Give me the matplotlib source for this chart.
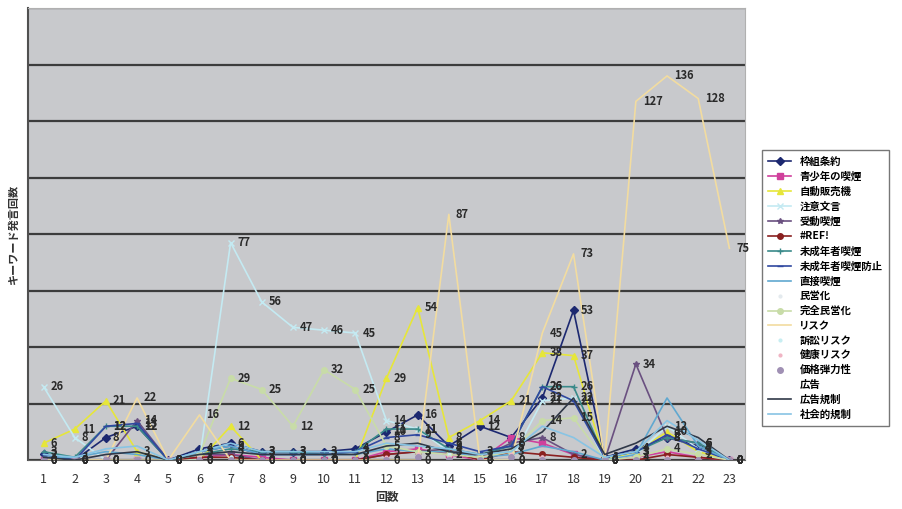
import numpy as np
from matplotlib import pyplot as plt

plt.rcParams['font.family'] = ['Noto Sans CJK JP', 'DejaVu Sans']

rounds = list(range(1, 24))

# 回ごとのキーワード発言回数 (rough)
wakugumi = [2, 0, 8, 12, 0, 4, 6, 3, 3, 3, 4, 10, 16, 5, 12, 8, 22, 53, 1, 4, 8, 5, 0]
seishonen = [0, 0, 0, 0, 0, 1, 2, 1, 0, 0, 0, 3, 4, 2, 0, 8, 6, 2, 0, 1, 3, 1, 0]
jihanki = [6, 11, 21, 3, 0, 0, 12, 0, 0, 0, 0, 29, 54, 8, 14, 21, 38, 37, 0, 3, 10, 3, 0]
chui = [26, 8, 0, 0, 0, 0, 77, 56, 47, 46, 45, 14, 11, 3, 0, 0, 21, 22, 0, 2, 12, 4, 0]
judo = [0, 0, 0, 14, 0, 2, 2, 0, 0, 0, 0, 2, 3, 4, 1, 6, 8, 2, 0, 34, 8, 6, 0]
ref_err = [0, 0, 0, 0, 0, 1, 1, 0, 0, 0, 0, 2, 3, 3, 0, 3, 2, 1, 0, 0, 2, 1, 0]
miseinen = [3, 1, 12, 12, 0, 2, 4, 3, 3, 2, 3, 11, 11, 4, 2, 5, 26, 26, 1, 3, 8, 6, 0]
miseinen_boshi = [2, 0, 12, 13, 0, 3, 5, 2, 2, 2, 3, 8, 9, 6, 3, 5, 26, 21, 1, 3, 9, 4, 0]
chokusetsu = [1, 1, 3, 2, 0, 3, 5, 2, 2, 2, 2, 4, 3, 3, 1, 2, 5, 3, 0, 2, 22, 5, 0]
mineika = [0, 0, 0, 0, 0, 0, 1, 0, 0, 0, 0, 0, 1, 0, 0, 0, 1, 0, 0, 0, 0, 0, 0]
kanzen_mineika = [0, 0, 0, 0, 0, 2, 29, 25, 12, 32, 25, 5, 3, 2, 1, 3, 14, 15, 0, 1, 4, 2, 0]
risk = [0, 0, 0, 22, 0, 16, 0, 0, 0, 0, 0, 0, 0, 87, 0, 0, 45, 73, 0, 127, 136, 128, 75]
sosho_risk = [0, 0, 0, 0, 0, 0, 1, 0, 0, 0, 0, 0, 0, 2, 0, 1, 0, 0, 0, 0, 0, 0, 0]
kenko_risk = [0, 0, 0, 0, 0, 1, 0, 0, 0, 0, 0, 1, 2, 1, 0, 2, 1, 0, 0, 0, 1, 0, 0]
kakaku = [0, 0, 0, 0, 0, 0, 0, 0, 0, 0, 0, 0, 1, 0, 0, 1, 0, 0, 0, 0, 0, 0, 0]
kokoku = [0] * 23
kokoku_kisei = [1, 0, 2, 3, 0, 2, 3, 2, 2, 2, 2, 5, 6, 3, 2, 4, 10, 22, 2, 6, 12, 8, 0]
shakai_kisei = [2, 1, 4, 5, 0, 3, 6, 3, 3, 3, 3, 6, 5, 4, 2, 3, 12, 8, 1, 3, 14, 7, 0]

series = [
    ('枠組条約', wakugumi, '#1c2870', 'D', '-'),
    ('青少年の喫煙', seishonen, '#d0409c', 's', '-'),
    ('自動販売機', jihanki, '#e6e63a', '^', '-'),
    ('注意文言', chui, '#c4eaf2', 'x', '-'),
    ('受動喫煙', judo, '#6a5080', '*', '-'),
    ('#REF!', ref_err, '#8a2020', 'o', '-'),
    ('未成年者喫煙', miseinen, '#3a8a8a', '+', '-'),
    ('未成年者喫煙防止', miseinen_boshi, '#3048a0', '_', '-'),
    ('直接喫煙', chokusetsu, '#60a8d0', '', '-'),
    ('民営化', mineika, '#e4eaee', '.', 'none'),
    ('完全民営化', kanzen_mineika, '#c8dca8', 'o', '-'),
    ('リスク', risk, '#f2dca0', '', '-'),
    ('訴訟リスク', sosho_risk, '#c8eef2', '.', 'none'),
    ('健康リスク', kenko_risk, '#f0b4c4', '.', 'none'),
    ('価格弾力性', kakaku, '#a090b4', 'o', 'none'),
    ('広告', kokoku, '#ffffff', '', 'none'),
    ('広告規制', kokoku_kisei, '#303848', '', '-'),
    ('社会的規制', shakai_kisei, '#88c4e4', '', '-'),
]

labelled = {'枠組条約', '自動販売機', '注意文言', '未成年者喫煙防止',
            '完全民営化', 'リスク', '受動喫煙', '未成年者喫煙'}

fig = plt.figure(figsize=(9.03, 5.09), dpi=100)
ax = fig.add_axes([0.031, 0.096, 0.794, 0.888])
ax.set_facecolor('#c8c9cc')

for name, vals, col, mk, ls in series:
    ax.plot(rounds, vals, color=col, marker=mk if mk else None, linestyle=ls,
            linewidth=1.2, markersize=4, label=name)

# data labels, as in the original (they pile up near zero)
for name, vals, col, mk, ls in series:
    if name not in labelled:
        continue
    for x, v in zip(rounds, vals):
        ax.annotate(str(v), (x, v), xytext=(5, 0), textcoords='offset points',
                    fontsize=8, fontweight='bold', color='#2a2a2a', va='center')

ax.set_xlim(0.5, 23.5)
ax.set_ylim(0, 160)
ax.set_yticks(np.arange(0, 161, 20))
ax.set_yticklabels([])
ax.tick_params(axis='y', length=0)
ax.yaxis.grid(True, color='#3c3c3c', linewidth=1.6)
ax.set_axisbelow(True)
ax.set_xticks(rounds)
ax.set_xticklabels([str(r) for r in rounds], fontsize=9, color='#333333')
ax.tick_params(axis='x', length=0, pad=9)
for side in ['top', 'right']:
    ax.spines[side].set_color('#b0b0b0')
ax.spines['left'].set_color('#505050')
ax.spines['left'].set_linewidth(1.5)
ax.spines['bottom'].set_color('#606060')

ax.set_ylabel('キーワード発言回数', fontsize=8, fontweight='bold', color='#333333', labelpad=2)
ax.set_xlabel('回数', fontsize=8.5, fontweight='bold', color='#333333', labelpad=4)

leg = ax.legend(loc='upper left', bbox_to_anchor=(0.838, 0.715),
                bbox_transform=fig.transFigure, prop={'size': 7.5, 'weight': 'bold'},
                frameon=True, fancybox=False, edgecolor='#555555', labelspacing=0.45,
                handlelength=2.2, borderpad=0.6)
leg.get_frame().set_linewidth(1.0)

fig.savefig('out.png', dpi=100)
